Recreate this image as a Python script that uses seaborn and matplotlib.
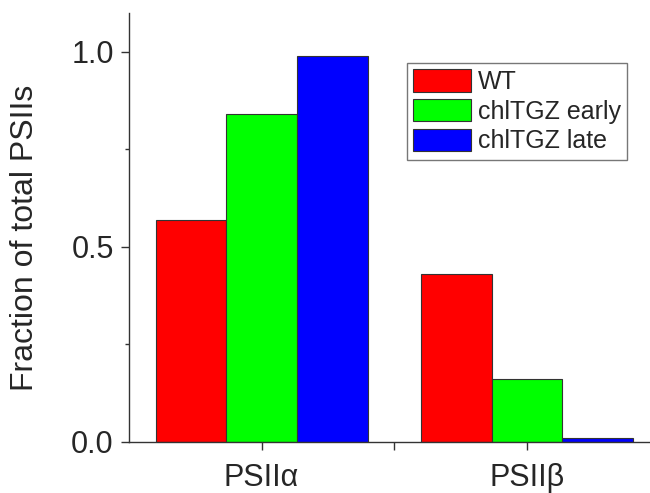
import matplotlib
matplotlib.use("Agg")
import matplotlib.pyplot as plt
from matplotlib.ticker import MultipleLocator, FixedLocator
import seaborn as sns
import pandas as pd

categories = ["PSIIα", "PSIIβ"]
groups = ["WT", "chlTGZ early", "chlTGZ late"]
wt = [0.57, 0.43]
early = [0.84, 0.16]
late = [0.99, 0.01]
colors = ["#FF0000", "#00FF00", "#0000FF"]

rows = []
for g, vals in zip(groups, [wt, early, late]):
    for c, v in zip(categories, vals):
        rows.append({"cat": c, "group": g, "value": v})
df = pd.DataFrame(rows)

sns.set_style("ticks")
plt.rcParams["font.family"] = ["Liberation Sans", "DejaVu Sans"]

fig = plt.figure(figsize=(6.5, 4.93), dpi=100)
ax = fig.add_axes([129 / 650, 51.3 / 493, (659.5 - 129) / 650, (441.7 - 13) / 493])

sns.barplot(data=df, x="cat", y="value", hue="group", order=categories,
            hue_order=groups, palette=dict(zip(groups, colors)),
            width=0.8, edgecolor="#333333", linewidth=0.8, saturation=1,
            ax=ax, legend=True)

ax.set_xlim(-0.5, 1.5)
ax.set_ylim(0, 1.1)
ax.set_yticks([0.0, 0.5, 1.0])
ax.set_yticklabels(["0.0", "0.5", "1.0"])
ax.yaxis.set_minor_locator(MultipleLocator(0.25))
ax.xaxis.set_minor_locator(FixedLocator([0.5]))
ax.set_xlabel("")
ax.set_ylabel("Fraction of total PSIIs", fontsize=23)
ax.yaxis.set_label_coords(-89 / 530.5, 0.476)

for s in ["top", "right"]:
    ax.spines[s].set_visible(False)
for s in ["left", "bottom"]:
    ax.spines[s].set_color("#333333")
    ax.spines[s].set_linewidth(1.0)

ax.tick_params(axis="both", which="major", direction="out", length=6,
               width=1.0, color="#333333", labelsize=22, pad=5)
ax.tick_params(axis="x", which="minor", direction="out", length=6,
               width=1.0, color="#333333")
ax.tick_params(axis="y", which="minor", direction="out", length=3,
               width=1.0, color="#333333")
ax.tick_params(axis="x", which="major", pad=9)

handles, labels = ax.get_legend_handles_labels()
leg = ax.legend(handles, labels, loc="upper left",
                bbox_to_anchor=(407 / 650, 1 - 63 / 493),
                bbox_transform=fig.transFigure, fontsize=18,
                frameon=True, fancybox=False, edgecolor="#555555",
                handlelength=2.3, handleheight=1.0, handletextpad=0.28,
                labelspacing=0.2, borderpad=0.25, borderaxespad=0)
leg.get_frame().set_linewidth(1.0)

fig.savefig("out.png", dpi=100)
